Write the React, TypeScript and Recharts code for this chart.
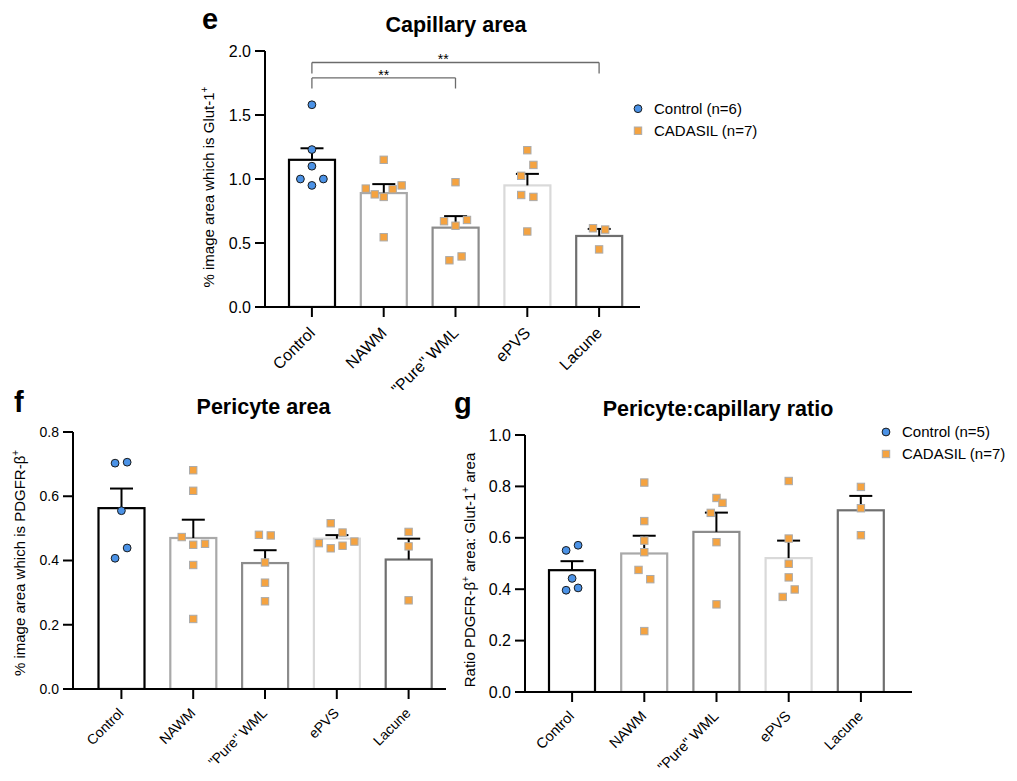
import React from 'react';
import { ComposedChart, Bar, Scatter, XAxis, YAxis, ReferenceLine, ReferenceDot } from 'recharts';

const FONT = '"Liberation Sans", Arial, Helvetica, sans-serif';

// ---------- shared ----------
const categories = ['Control', 'NAWM', '"Pure" WML', 'ePVS', 'Lacune'];
const barStrokes = ['#000000', '#a9a9a9', '#8c8c8c', '#d9d9d9', '#6f6f6f'];

// ---------- panel e : Capillary area ----------
const capMean = [1.15, 0.89, 0.62, 0.95, 0.555];
const capSem = [0.09, 0.07, 0.09, 0.09, 0.055];
const capCtrlY = [1.58, 1.23, 1.1, 1.0, 1.0, 0.95];
const capCtrlDx = [0, 0, 0, -0.16, 0.16, 0];
const capCadY = [[], [1.15, 0.925, 0.88, 0.86, 0.92, 0.95, 0.545], [0.975, 0.67, 0.68, 0.635, 0.365, 0.395], [1.225, 1.11, 1.025, 0.875, 0.86, 0.59], [0.615, 0.605, 0.45]];
const capCadDx = [[], [0, -0.25, -0.125, 0, 0.125, 0.25, 0], [0, -0.16, 0.16, 0, -0.085, 0.085], [0, 0.085, -0.085, -0.085, 0.085, 0], [-0.085, 0.085, 0]];
const capTicks = [0, 0.5, 1.0, 1.5, 2.0];
const capBrackets = [
  { from: 0, to: 2, y: 1.79, drop: 1.707, label: '**', labelX: 1, labelY: 1.836 },
  { from: 0, to: 4, y: 1.91, drop: 1.824, label: '**', labelX: 1.83, labelY: 1.958 },
];
const capLegend = ['Control (n=6)', 'CADASIL (n=7)'];

// ---------- panel f : Pericyte area ----------
const periMean = [0.563, 0.47, 0.392, 0.468, 0.403];
const periSem = [0.061, 0.057, 0.04, 0.011, 0.065];
const periCtrlY = [0.703, 0.706, 0.555, 0.439, 0.407];
const periCtrlDx = [-0.088, 0.08, 0, 0.08, -0.088];
const periCadY = [[], [0.681, 0.617, 0.473, 0.449, 0.452, 0.386, 0.218], [0.48, 0.478, 0.394, 0.331, 0.273], [0.516, 0.487, 0.454, 0.438, 0.446, 0.459], [0.489, 0.444, 0.276]];
const periCadDx = [[], [0, 0, -0.16, 0, 0.165, 0, 0], [-0.085, 0.08, 0, 0, 0], [-0.085, 0.08, -0.25, -0.085, 0.08, 0.245], [0, 0, 0]];
const periTicks = [0, 0.2, 0.4, 0.6, 0.8];

// ---------- panel g : Pericyte:capillary ratio ----------
const ratioMean = [0.474, 0.539, 0.623, 0.521, 0.707];
const ratioSem = [0.035, 0.069, 0.075, 0.068, 0.056];
const ratioCtrlY = [0.551, 0.571, 0.442, 0.396, 0.405];
const ratioCtrlDx = [-0.083, 0.083, 0, -0.083, 0.083];
const ratioCadY = [[], [0.815, 0.665, 0.589, 0.544, 0.475, 0.439, 0.237], [0.755, 0.736, 0.697, 0.583, 0.341], [0.821, 0.597, 0.499, 0.446, 0.399, 0.37], [0.798, 0.715, 0.61]];
const ratioCadDx = [[], [0, 0, 0, 0, -0.08, 0.083, 0], [0, 0.083, -0.08, 0, 0], [0, 0, 0, 0, 0.083, -0.083], [0, 0, 0]];
const ratioTicks = [0, 0.2, 0.4, 0.6, 0.8, 1.0];
const ratioLegend = ['Control (n=5)', 'CADASIL (n=7)'];

// ---------- builders ----------
const barRows = (mean: number[], sem: number[]) =>
  categories.map((name, i) => ({ name, mean: mean[i], sem: sem[i], stroke: barStrokes[i] }));
const ctrlPoints = (ys: number[], dxs: number[]) => ys.map((y, j) => ({ x: 0 + dxs[j], y }));
const cadPoints = (yss: number[][], dxss: number[][]) =>
  yss.flatMap((ys, i) => ys.map((y, j) => ({ x: i + dxss[i][j], y })));

const BarShape = (props: any) => {
  const { x, y, width, height, payload } = props;
  if (!payload || !height) return null;
  const pxPerUnit = height / payload.mean;
  const errTop = y - payload.sem * pxPerUnit;
  const cx = x + width / 2;
  return (
    <g>
      <rect x={x + 1} y={y} width={width - 2} height={height} fill="#ffffff" stroke={payload.stroke} strokeWidth={2.2} />
      <line x1={cx} x2={cx} y1={y} y2={errTop} stroke="#000" strokeWidth={2} />
      <line x1={cx - 11.5} x2={cx + 11.5} y1={errTop} y2={errTop} stroke="#000" strokeWidth={2} />
    </g>
  );
};

const CircleShape = (p: any) => (
  <circle cx={p.cx} cy={p.cy} r={3.9} fill="#4b92e6" stroke="#1b1b1b" strokeWidth={1} />
);
const SquareShape = (p: any) => (
  <rect x={p.cx - 3.7} y={p.cy - 3.7} width={7.4} height={7.4} fill="#f5a340" stroke="#ababab" strokeWidth={1} />
);

const CatTick = (props: any) => {
  const { x, y, payload, fs, dx, dy } = props;
  const tx = x + dx;
  const ty = y + dy;
  return (
    <text x={tx} y={ty} transform={`rotate(-45 ${tx} ${ty})`} textAnchor="end" fontSize={fs} fill="#000" fontFamily={FONT}>
      {payload.value}
    </text>
  );
};

type PanelProps = {
  left: number; top: number; width: number; height: number;
  marginTop: number; marginRight: number; yAxisWidth: number; xAxisHeight: number;
  padL: number; padR: number; domainMax: number; ticks: number[];
  tickFs: number; catFs: number; catDx: number; catDy: number;
  bars: any[]; ctrl: any[]; cad: any[];
  yLabel: (offL: number, offT: number) => React.ReactNode;
  extra?: React.ReactNode[];
};

function Panel(p: PanelProps) {
  const axisStyle = { stroke: '#000', strokeWidth: 2 };
  return (
    <div style={{ position: 'absolute', left: p.left, top: p.top, width: p.width, height: p.height }}>
      <ComposedChart
        width={p.width}
        height={p.height}
        data={p.bars}
        margin={{ top: p.marginTop, right: p.marginRight, bottom: 0, left: 0 }}
        style={{ overflow: 'visible' }}
      >
        <XAxis
          xAxisId="cat"
          dataKey="name"
          type="category"
          height={p.xAxisHeight}
          padding={{ left: p.padL, right: p.padR }}
          axisLine={axisStyle}
          tickLine={axisStyle}
          tickSize={10}
          tickMargin={2}
          interval={0}
          tick={(tp: any) => <CatTick {...tp} fs={p.catFs} dx={p.catDx} dy={p.catDy} />}
        />
        <XAxis
          xAxisId="num"
          dataKey="x"
          type="number"
          domain={[-0.5, 4.5]}
          allowDataOverflow
          padding={{ left: p.padL, right: p.padR }}
          hide
        />
        <YAxis
          dataKey="y"
          type="number"
          width={p.yAxisWidth}
          domain={[0, p.domainMax]}
          allowDataOverflow
          ticks={p.ticks}
          interval={0}
          tickFormatter={(v: number) => v.toFixed(1)}
          axisLine={axisStyle}
          tickLine={axisStyle}
          tickSize={10}
          tickMargin={4}
          tick={{ fill: '#000', fontSize: p.tickFs, fontFamily: FONT }}
          label={{ content: () => p.yLabel(p.left, p.top) }}
        />
        <Bar xAxisId="cat" dataKey="mean" barSize={48} shape={<BarShape />} isAnimationActive={false} />
        {p.extra}
        <Scatter xAxisId="num" data={p.cad} shape={<SquareShape />} isAnimationActive={false} />
        <Scatter xAxisId="num" data={p.ctrl} shape={<CircleShape />} isAnimationActive={false} />
      </ComposedChart>
    </div>
  );
}

const bracketElements = capBrackets.flatMap((b, k) => [
  <ReferenceLine key={`h${k}`} xAxisId="num" segment={[{ x: b.from, y: b.y }, { x: b.to, y: b.y }]} stroke="#6b6b6b" strokeWidth={1.3} ifOverflow="visible" />,
  <ReferenceLine key={`l${k}`} xAxisId="num" segment={[{ x: b.from, y: b.y }, { x: b.from, y: b.drop }]} stroke="#6b6b6b" strokeWidth={1.3} ifOverflow="visible" />,
  <ReferenceLine key={`r${k}`} xAxisId="num" segment={[{ x: b.to, y: b.y }, { x: b.to, y: b.drop }]} stroke="#6b6b6b" strokeWidth={1.3} ifOverflow="visible" />,
  <ReferenceDot
    key={`t${k}`}
    xAxisId="num"
    x={b.labelX}
    y={b.labelY}
    r={0}
    fill="none"
    stroke="none"
    ifOverflow="visible"
    label={{
      content: (lp: any) => {
        const vb = lp.viewBox || { x: 0, y: 0, width: 0, height: 0 };
        const cx = vb.x + (vb.width || 0) / 2;
        const cy = vb.y + (vb.height || 0) / 2;
        return (
          <text x={cx} y={cy + 8} textAnchor="middle" fontSize={14} fill="#000" fontFamily={FONT}>
            {b.label}
          </text>
        );
      },
    }}
  />,
]);

const SUP = { fontSize: 10 };

const capYLabel = (offL: number, offT: number) => {
  const x = 214 - offL;
  const y = 187 - offT;
  return (
    <text x={x} y={y} transform={`rotate(-90 ${x} ${y})`} textAnchor="middle" fontSize={15} fill="#000" fontFamily={FONT}>
      % image area which is Glut-1<tspan dy={-6} {...SUP}>+</tspan>
    </text>
  );
};
const periYLabel = (offL: number, offT: number) => {
  const x = 25 - offL;
  const y = 563 - offT;
  return (
    <text x={x} y={y} transform={`rotate(-90 ${x} ${y})`} textAnchor="middle" fontSize={15} fill="#000" fontFamily={FONT}>
      % image area which is PDGFR-β<tspan dy={-6} {...SUP}>+</tspan>
    </text>
  );
};
const ratioYLabel = (offL: number, offT: number) => {
  const x = 475 - offL;
  const y = 570 - offT;
  return (
    <text x={x} y={y} transform={`rotate(-90 ${x} ${y})`} textAnchor="middle" fontSize={15} fill="#000" fontFamily={FONT}>
      Ratio PDGFR-β<tspan dy={-6} {...SUP}>+</tspan>
      <tspan dy={6}>{'  area: Glut-1'}</tspan>
      <tspan dy={-6} {...SUP}>+</tspan>
      <tspan dy={6}>{'  area'}</tspan>
    </text>
  );
};

function LegendBlock({ x, y, labels }: { x: number; y: number; labels: string[] }) {
  return (
    <g fontFamily={FONT} fontSize={15}>
      <circle cx={x} cy={y} r={3.9} fill="#4b92e6" stroke="#1b1b1b" strokeWidth={1} />
      <text x={x + 16} y={y + 5.3} fill="#000">{labels[0]}</text>
      <rect x={x - 3.7} y={y + 22 - 3.7} width={7.4} height={7.4} fill="#f5a340" stroke="#ababab" strokeWidth={1} />
      <text x={x + 16} y={y + 22 + 5.3} fill="#000">{labels[1]}</text>
    </g>
  );
}

export default function App() {
  return (
    <div style={{ position: 'absolute', left: 0, top: 0, width: 1017, height: 781, background: '#fff', fontFamily: FONT }}>
      <Panel
        left={150} top={0} width={500} height={390}
        marginTop={51} marginRight={10} yAxisWidth={115} xAxisHeight={83}
        padL={11} padR={5} domainMax={2} ticks={capTicks}
        tickFs={16} catFs={16} catDx={4} catDy={15}
        bars={barRows(capMean, capSem)}
        ctrl={ctrlPoints(capCtrlY, capCtrlDx)}
        cad={cadPoints(capCadY, capCadDx)}
        yLabel={capYLabel}
        extra={bracketElements}
      />
      <Panel
        left={0} top={390} width={450} height={390}
        marginTop={42} marginRight={4} yAxisWidth={73} xAxisHeight={91}
        padL={12.5} padR={1.5} domainMax={0.8} ticks={periTicks}
        tickFs={14} catFs={14} catDx={3} catDy={13}
        bars={barRows(periMean, periSem)}
        ctrl={ctrlPoints(periCtrlY, periCtrlDx)}
        cad={cadPoints(periCadY, periCadDx)}
        yLabel={periYLabel}
      />
      <Panel
        left={450} top={390} width={470} height={390}
        marginTop={45} marginRight={8} yAxisWidth={75} xAxisHeight={88}
        padL={11} padR={15} domainMax={1} ticks={ratioTicks}
        tickFs={16} catFs={14.5} catDx={3} catDy={13}
        bars={barRows(ratioMean, ratioSem)}
        ctrl={ctrlPoints(ratioCtrlY, ratioCtrlDx)}
        cad={cadPoints(ratioCadY, ratioCadDx)}
        yLabel={ratioYLabel}
      />
      <svg width={1017} height={781} style={{ position: 'absolute', left: 0, top: 0, pointerEvents: 'none' }} fontFamily={FONT}>
        <text x={202} y={29} fontSize={29} fontWeight="bold" fill="#000">e</text>
        <text x={456} y={32} fontSize={21.5} fontWeight="bold" textAnchor="middle" fill="#000">Capillary area</text>
        <text x={14} y={412} fontSize={29} fontWeight="bold" fill="#000">f</text>
        <text x={263.5} y={413.5} fontSize={21.5} fontWeight="bold" textAnchor="middle" fill="#000">Pericyte area</text>
        <text x={454} y={412.5} fontSize={29} fontWeight="bold" fill="#000">g</text>
        <text x={718} y={416} fontSize={21.5} fontWeight="bold" textAnchor="middle" fill="#000">Pericyte:capillary ratio</text>
        <LegendBlock x={638} y={108.7} labels={capLegend} />
        <LegendBlock x={886} y={432} labels={ratioLegend} />
      </svg>
    </div>
  );
}
